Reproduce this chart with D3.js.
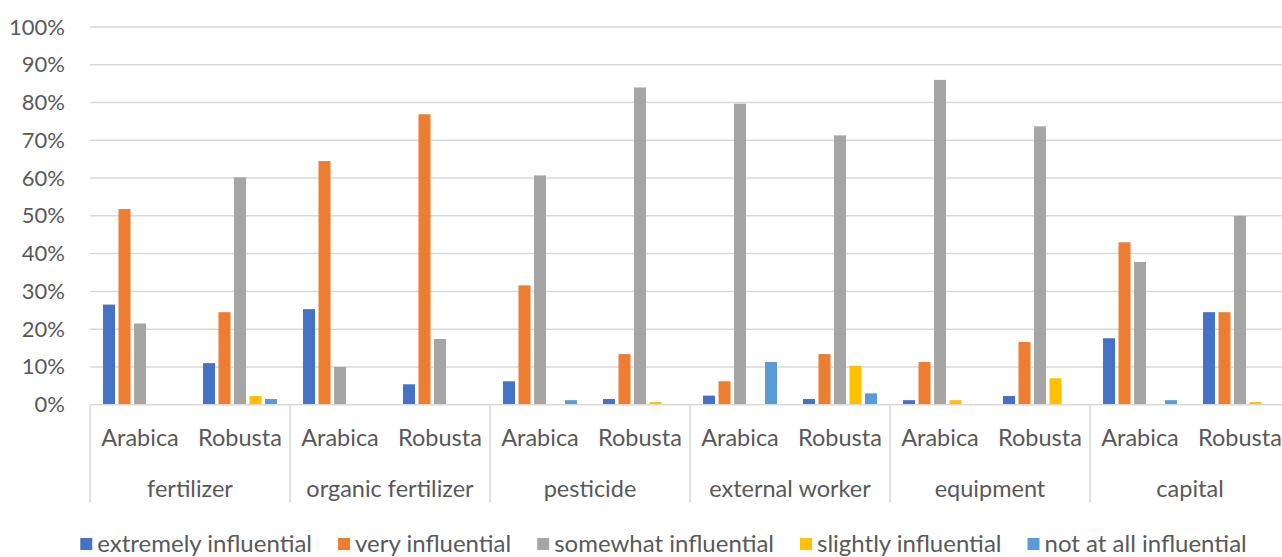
<!DOCTYPE html>
<html>
<head>
<meta charset="utf-8">
<script src="https://cdn.jsdelivr.net/npm/d3@7"></script>
<style>
  html, body { margin: 0; padding: 0; background: #fff; }
  svg { display: block; font-family: Lato, "Liberation Sans", sans-serif; }
</style>
</head>
<body>
<svg id="chart" width="1282" height="557"></svg>
<script>
// Input factors and coffee varieties
const categories = ["fertilizer", "organic fertilizer", "pesticide", "external worker", "equipment", "capital"];
const varieties = ["Arabica", "Robusta"];
const seriesNames = ["extremely influential", "very influential", "somewhat influential", "slightly influential", "not at all influential"];
const seriesColors = ["#4472C4", "#ED7D31", "#A5A5A5", "#FFC000", "#5B9BD5"];

// Percent of respondents, ordered Arabica/Robusta for each factor
const extremelyInfluential = [26.5, 11.0, 25.3, 5.4, 6.2, 1.5, 2.4, 1.5, 1.2, 2.3, 17.6, 24.5];
const veryInfluential      = [51.8, 24.5, 64.5, 76.9, 31.6, 13.4, 6.2, 13.4, 11.3, 16.6, 43.0, 24.5];
const somewhatInfluential  = [21.5, 60.2, 10.0, 17.4, 60.7, 84.0, 79.7, 71.3, 86.0, 73.7, 37.8, 50.0];
const slightlyInfluential  = [0, 2.3, 0, 0, 0, 0.7, 0, 10.3, 1.2, 7.0, 0, 0.7];
const notAtAllInfluential  = [0, 1.5, 0, 0, 1.2, 0, 11.3, 3.0, 0, 0, 1.2, 0];

const yTicks = [0, 10, 20, 30, 40, 50, 60, 70, 80, 90, 100];

const seriesValues = [extremelyInfluential, veryInfluential, somewhatInfluential, slightlyInfluential, notAtAllInfluential];

// One row per (factor, variety) slot
const slots = [];
categories.forEach((c, ci) => varieties.forEach((v, vi) => slots.push({ key: c + "|" + v, category: c, variety: v, index: ci * 2 + vi })));

const svg = d3.select("#chart");
const W = 1282, H = 557;
const plotLeft = 90, plotRight = 1290, plotTop = 27, plotBottom = 404.7;
const textColor = "#595959", gridColor = "#D9D9D9";

const x0 = d3.scaleBand().domain(categories).range([plotLeft, plotRight]);
const x1 = d3.scaleBand().domain(varieties).range([0, x0.bandwidth()]);
const xs = d3.scaleBand().domain(seriesNames).range([13, 87]).paddingInner(0.226).paddingOuter(0);
const y = d3.scaleLinear().domain([0, 100]).range([plotBottom, plotTop]);

svg.append("defs").append("clipPath").attr("id", "clipArea")
  .append("rect").attr("x", 0).attr("y", 0).attr("width", W).attr("height", H);

const root = svg.append("g").attr("clip-path", "url(#clipArea)");

// Horizontal gridlines
root.append("g").selectAll("line").data(yTicks.slice(1)).join("line")
  .attr("x1", plotLeft).attr("x2", W)
  .attr("y1", d => y(d)).attr("y2", d => y(d))
  .attr("stroke", gridColor).attr("stroke-width", 1.5);

// Y axis labels
const yAxis = d3.axisLeft(y).tickValues(yTicks).tickFormat(d => d + "%").tickSize(0).tickPadding(0);
const yG = root.append("g").attr("transform", `translate(65,0)`).call(yAxis);
yG.select(".domain").remove();
yG.selectAll("text").attr("fill", textColor).style("font-size", "22px").style("font-family", "Lato, sans-serif");

// Bars
const groups = root.append("g").selectAll("g").data(slots).join("g")
  .attr("transform", d => `translate(${x0(d.category) + x1(d.variety)},0)`);

groups.selectAll("rect").data(d => seriesNames.map((s, si) => ({ series: s, color: seriesColors[si], value: seriesValues[si][d.index] })))
  .join("rect")
  .attr("x", d => xs(d.series))
  .attr("width", xs.bandwidth())
  .attr("y", d => y(d.value))
  .attr("height", d => y(0) - y(d.value))
  .attr("fill", d => d.color);

// Category axis baseline and group dividers
root.append("line").attr("x1", plotLeft).attr("x2", W).attr("y1", plotBottom).attr("y2", plotBottom)
  .attr("stroke", gridColor).attr("stroke-width", 1.5);
root.append("g").selectAll("line").data(categories).join("line")
  .attr("x1", d => x0(d)).attr("x2", d => x0(d))
  .attr("y1", plotBottom).attr("y2", 503)
  .attr("stroke", gridColor).attr("stroke-width", 1.5);

// Variety labels
root.append("g").selectAll("text").data(slots).join("text")
  .attr("x", d => x0(d.category) + x1(d.variety) + x1.bandwidth() / 2)
  .attr("y", 438)
  .attr("dy", "0.35em")
  .attr("text-anchor", "middle")
  .attr("fill", textColor)
  .style("font-size", "23.5px")
  .text(d => d.variety);

// Factor labels
root.append("g").selectAll("text").data(categories).join("text")
  .attr("x", d => x0(d) + x0.bandwidth() / 2)
  .attr("y", 489)
  .attr("dy", "0.35em")
  .attr("text-anchor", "middle")
  .attr("fill", textColor)
  .style("font-size", "23.5px")
  .text(d => d);

// Legend
const legend = svg.append("g");
const items = legend.selectAll("g").data(seriesNames).join("g");
items.append("rect").attr("width", 12).attr("height", 12).attr("y", -6)
  .attr("fill", (d, i) => seriesColors[i]);
items.append("text").attr("x", 17).attr("dy", "0.35em")
  .attr("fill", textColor).style("font-size", "24px").text(d => d);
let cursor = 0;
const gap = 26;
items.each(function () {
  const w = this.getBBox().width;
  d3.select(this).attr("transform", `translate(${cursor},544)`);
  cursor += w + gap;
});
const total = cursor - gap;
legend.attr("transform", `translate(${(80 + 1247) / 2 - total / 2},0)`);
</script>
</body>
</html>
